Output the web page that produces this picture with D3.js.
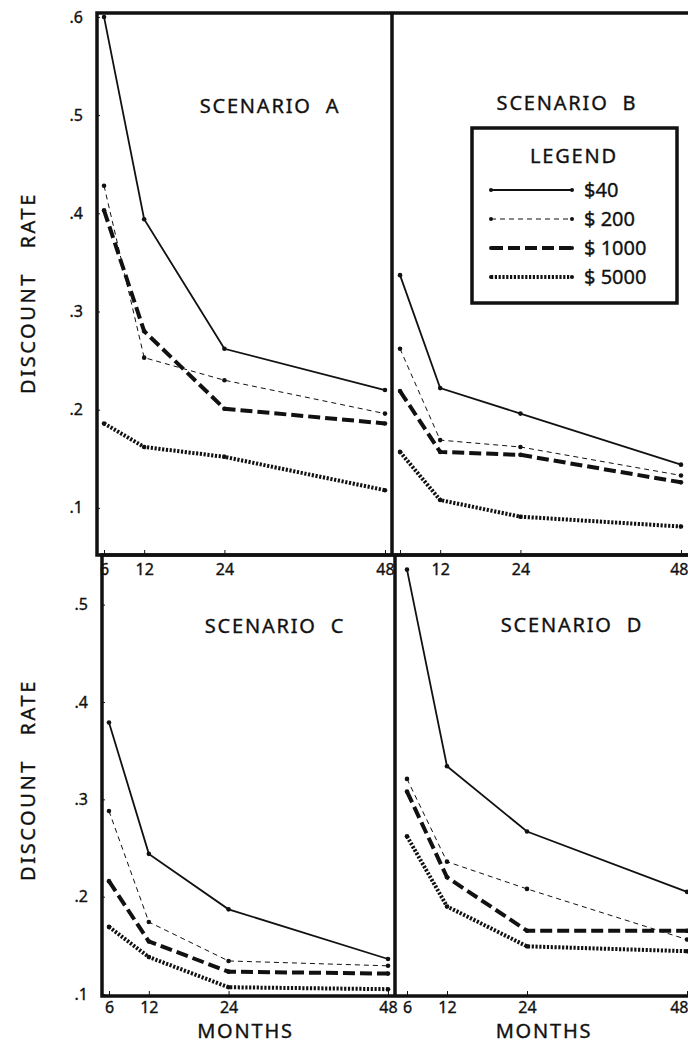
<!DOCTYPE html>
<html>
<head>
<meta charset="utf-8">
<script src="https://cdn.jsdelivr.net/npm/d3@7"></script>
<style>
  body { margin: 0; background: #fff; }
  svg { display: block; }
  text { font-family: "Noto Sans", "DejaVu Sans", sans-serif; fill: #111; stroke: #111; stroke-width: 0.35px; }
</style>
</head>
<body>
<svg id="chart" width="688" height="1045"></svg>
<script>
// months on the x axis
var months = [6, 12, 24, 48]
var amounts = ["$40", "$ 200", "$ 1000", "$ 5000"]
var topTicks = [0.1, 0.2, 0.3, 0.4, 0.5, 0.6]
var bottomTicks = [0.1, 0.2, 0.3, 0.4, 0.5]

// discount rate per amount ($40, $200, $1000, $5000), one value per month
var scenarioA = [
  [0.600, 0.394, 0.262, 0.220],
  [0.428, 0.253, 0.230, 0.196],
  [0.403, 0.280, 0.201, 0.186],
  [0.186, 0.162, 0.152, 0.118]
]
var scenarioB = [
  [0.337, 0.222, 0.196, 0.144],
  [0.262, 0.169, 0.162, 0.133],
  [0.219, 0.157, 0.154, 0.126],
  [0.157, 0.108, 0.091, 0.081]
]
var scenarioC = [
  [0.379, 0.244, 0.187, 0.136],
  [0.288, 0.174, 0.134, 0.129],
  [0.216, 0.154, 0.123, 0.121],
  [0.169, 0.138, 0.107, 0.105]
]
var scenarioD = [
  [0.536, 0.334, 0.267, 0.205],
  [0.321, 0.236, 0.208, 0.156],
  [0.308, 0.220, 0.165, 0.165],
  [0.262, 0.190, 0.149, 0.144]
]

var svg = d3.select('#chart')
var ink = '#111'

// line looks for each amount
var styles = [
  {width: 1.8, dash: null},
  {width: 1, dash: '5,4'},
  {width: 4, dash: '12,5'},
  {width: 4, dash: '2.2,1.6'}
]

var rows = {
  top: {y0: 13, y1: 555, domain: [0.052, 0.604], ticks: topTicks, labelY: 575},
  bottom: {y0: 555, y1: 996, domain: [0.098, 0.551], ticks: bottomTicks, labelY: 1013}
}

var panels = [
  {name: 'A', data: scenarioA, row: 'top', x0: 97, x1: 392, first: true, titleX: 270, titleY: 113},
  {name: 'B', data: scenarioB, row: 'top', x0: 393, x1: 688, first: false, titleX: 567, titleY: 110},
  {name: 'C', data: scenarioC, row: 'bottom', x0: 102, x1: 395, first: true, titleX: 275, titleY: 633},
  {name: 'D', data: scenarioD, row: 'bottom', x0: 400, x1: 694, first: false, titleX: 572, titleY: 632}
]

var defs = svg.append('defs')

panels.forEach(function(p, i){
  var r = rows[p.row]
  var x = d3.scaleLinear().domain([4.95, 49.05]).range([p.x0, p.x1])
  var y = d3.scaleLinear().domain(r.domain).range([r.y1, r.y0])

  defs.append('clipPath').attr('id', 'clip' + p.name)
    .append('rect')
    .attr('x', p.x0).attr('y', r.y0)
    .attr('width', p.x1 - p.x0).attr('height', r.y1 - r.y0)

  var g = svg.append('g').attr('class', 'panel-' + p.name)

  // x axis, small ticks pointing up
  var xAxis = d3.axisBottom(x).tickValues(months).tickSize(-5).tickPadding(10)
    .tickFormat(function(d){ return (p.name == 'B' && d == 6) ? '' : d })
  var xg = g.append('g').attr('transform', 'translate(0,' + r.y1 + ')').call(xAxis)
  xg.select('.domain').remove()
  xg.selectAll('line').attr('stroke', ink).attr('stroke-width', 1)
  xg.selectAll('text').attr('font-size', 16).attr('fill', ink)
    .attr('y', null).attr('dy', null)
    .attr('transform', 'translate(0,' + (r.labelY - r.y1) + ')')
  // last label sits on the right edge of the sheet
  if(!p.first){
    xg.selectAll('text').filter(function(d){ return d == 48 })
      .attr('text-anchor', 'end').attr('x', 688 - x(48))
  }

  if(p.first){
    var yAxis = d3.axisLeft(y).tickValues(r.ticks).tickSize(-3).tickPadding(14)
      .tickFormat(function(d){ return '.' + Math.round(d * 10) })
    var yg = g.append('g').attr('transform', 'translate(' + p.x0 + ',0)').call(yAxis)
    yg.select('.domain').remove()
    yg.selectAll('line').attr('stroke', ink).attr('stroke-width', 1)
    yg.selectAll('text').attr('font-size', 16).attr('fill', ink)
  }

  var line = d3.line()
    .x(function(d, j){ return x(months[j]) })
    .y(function(d){ return y(d) })

  var plot = g.append('g').attr('clip-path', 'url(#clip' + p.name + ')')
  p.data.forEach(function(series, k){
    plot.append('path')
      .datum(series)
      .attr('d', line)
      .attr('fill', 'none')
      .attr('stroke', ink)
      .attr('stroke-width', styles[k].width)
      .attr('stroke-dasharray', styles[k].dash)
    plot.selectAll('.dot' + k)
      .data(series)
      .enter().append('circle')
      .attr('cx', function(d, j){ return x(months[j]) })
      .attr('cy', function(d){ return y(d) })
      .attr('r', 2.3)
      .attr('fill', ink)
  })

  g.append('text')
    .attr('x', p.titleX).attr('y', p.titleY)
    .attr('text-anchor', 'middle')
    .attr('font-size', 20)
    .attr('letter-spacing', 1.8)
    .attr('xml:space', 'preserve')
    .text('SCENARIO  ' + p.name)

  if(p.row == 'bottom'){
    g.append('text')
      .attr('x', (x(6) + x(48)) / 2 - 3).attr('y', 1038)
      .attr('text-anchor', 'middle')
      .attr('font-size', 20)
      .attr('letter-spacing', 1.8)
      .text('MONTHS')
  }
})

// frames
var frame = svg.append('g').attr('fill', 'none').attr('stroke', ink).attr('stroke-width', 3.5)
frame.append('rect').attr('x', 97).attr('y', 13).attr('width', 620).attr('height', 542)
frame.append('line').attr('x1', 392).attr('x2', 392).attr('y1', 13).attr('y2', 555)
frame.append('rect').attr('x', 102).attr('y', 555).attr('width', 620).attr('height', 441)
frame.append('line').attr('x1', 395).attr('x2', 395).attr('y1', 555).attr('y2', 996)

// y axis titles
;[293, 780].forEach(function(cy){
  svg.append('text')
    .attr('transform', 'translate(35,' + cy + ') rotate(-90)')
    .attr('text-anchor', 'middle')
    .attr('font-size', 20)
    .attr('letter-spacing', 2.6)
    .attr('xml:space', 'preserve')
    .text('DISCOUNT   RATE')
})

// legend
var lg = svg.append('g').attr('class', 'legend')
lg.append('rect').attr('x', 472).attr('y', 128).attr('width', 205).attr('height', 175)
  .attr('fill', '#fff').attr('stroke', ink).attr('stroke-width', 3.5)
lg.append('text').attr('x', 574).attr('y', 163).attr('text-anchor', 'middle')
  .attr('font-size', 20).attr('letter-spacing', 1.8).text('LEGEND')
var legY = d3.scalePoint().domain(amounts).range([190, 277])
amounts.forEach(function(a, k){
  var ly = legY(a)
  lg.append('line').attr('x1', 491).attr('x2', 571).attr('y1', ly).attr('y2', ly)
    .attr('stroke', ink).attr('stroke-width', styles[k].width)
    .attr('stroke-dasharray', styles[k].dash)
  lg.append('circle').attr('cx', 491).attr('cy', ly).attr('r', 2).attr('fill', ink)
  lg.append('circle').attr('cx', 572).attr('cy', ly).attr('r', 2).attr('fill', ink)
  lg.append('text').attr('x', 584).attr('y', ly + 7)
    .attr('font-size', 20).attr('xml:space', 'preserve').text(a)
})
</script>
</body>
</html>
